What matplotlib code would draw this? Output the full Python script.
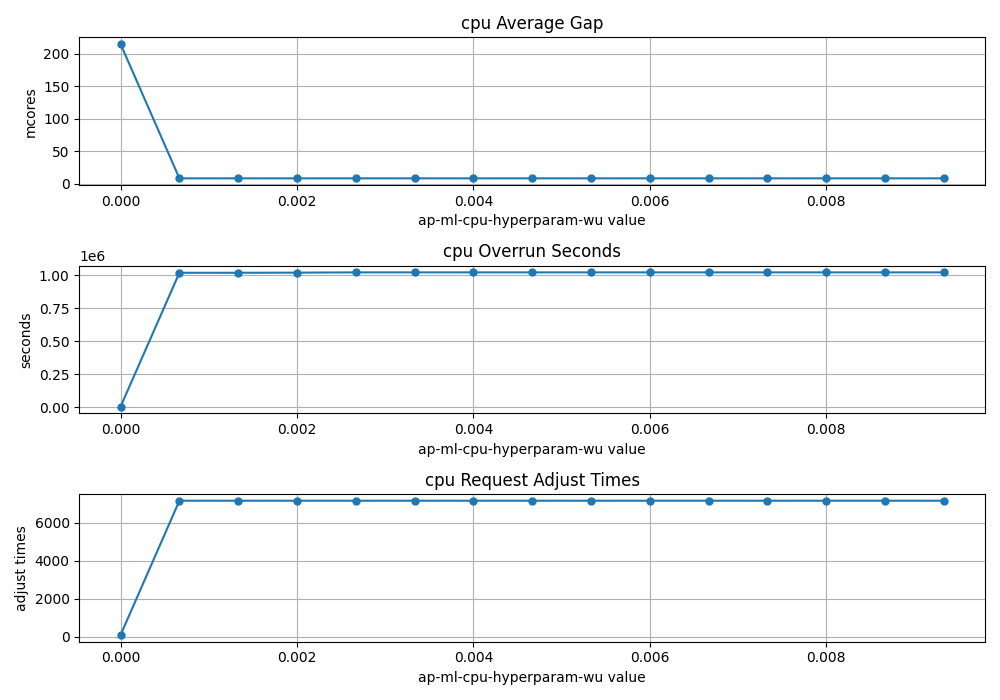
import matplotlib
matplotlib.use("Agg")
import matplotlib.pyplot as plt

x = [0.0, 0.000667, 0.001333, 0.002, 0.002667, 0.003333, 0.004, 0.004667,
     0.005333, 0.006, 0.006667, 0.007333, 0.008, 0.008667, 0.009333]
avg_gap = [215, 8, 8, 8, 8, 8, 8, 8, 8, 8, 8, 8, 8, 8, 8]
overrun = [0.005e6, 1.020e6, 1.020e6, 1.021e6, 1.023e6, 1.023e6, 1.023e6, 1.023e6,
           1.023e6, 1.023e6, 1.023e6, 1.023e6, 1.023e6, 1.023e6, 1.023e6]
adjust = [100, 7150, 7150, 7150, 7150, 7150, 7150, 7150,
          7150, 7150, 7150, 7150, 7150, 7150, 7150]

titles = ["cpu Average Gap", "cpu Overrun Seconds", "cpu Request Adjust Times"]
ylabels = ["mcores", "seconds", "adjust times"]
series = [avg_gap, overrun, adjust]

fig, axes = plt.subplots(3, 1, figsize=(10, 7))
for ax, y, t, yl in zip(axes, series, titles, ylabels):
    ax.plot(x, y, marker="o", markersize=5)
    ax.set_title(t)
    ax.set_ylabel(yl)
    ax.set_xlabel("ap-ml-cpu-hyperparam-wu value")
    ax.grid(True)

plt.tight_layout()
plt.savefig("out.png", dpi=100)
